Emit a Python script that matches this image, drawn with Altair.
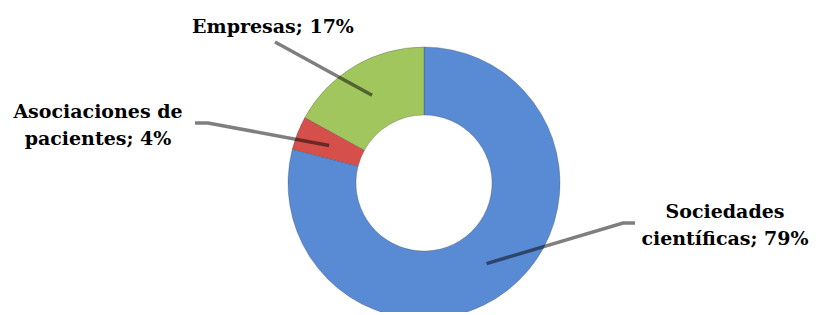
import math
import altair as alt
import pandas as pd

# ---- data ----
categories = ["Sociedades científicas", "Asociaciones de pacientes", "Empresas"]
percentages = [79, 4, 17]
label_lines = [["Sociedades", "científicas; 79%"], ["Asociaciones de", "pacientes; 4%"], ["Empresas; 17%"]]
colors = ["#588BD3", "#D6504B", "#A2C65E"]

# ---- layout ----
W, H = 805, 304
CX, CY = 416, 175
R_OUT, R_IN = 136, 68
# label anchors (center x, first baseline y) and leader elbow / outer ends
label_pos = [(717, 210), (90, 110), (265, 25)]
leader_elbow = [(615, 215), (200, 115), (267, 34)]
leader_outer = [(627, 215), (187, 115), (267, 34)]
LINE_H = 27

df = pd.DataFrame({"cat": categories, "pct": percentages, "order": list(range(len(categories)))})

arcs = alt.Chart(df).mark_arc(
    outerRadius=R_OUT, innerRadius=R_IN, stroke="#3a3a3a", strokeOpacity=0.35, strokeWidth=0.8
).encode(
    theta=alt.Theta("pct:Q", stack=True),
    order=alt.Order("order:Q"),
    color=alt.Color("cat:N", scale=alt.Scale(domain=categories, range=colors), legend=None),
    x=alt.value(CX),
    y=alt.value(CY),
)

# leader lines: inner end at mid-angle of each slice, middle of ring
total = sum(percentages)
rows = []
cum = 0
r_mid = (R_IN + R_OUT) / 2
for i, (c, p) in enumerate(zip(categories, percentages)):
    mid = (cum + p / 2) / total * 2 * math.pi
    cum += p
    ix = CX + r_mid * math.sin(mid)
    iy = CY - r_mid * math.cos(mid)
    pts = [(ix, iy), leader_elbow[i], leader_outer[i]]
    for k, (px, py) in enumerate(pts):
        rows.append({"cat": c, "seq": k, "px": px, "py": py})
lines_df = pd.DataFrame(rows)

leaders = alt.Chart(lines_df).mark_line(
    color="#000000", strokeOpacity=0.5, strokeWidth=3.5
).encode(
    x=alt.X("px:Q", scale=None, axis=None),
    y=alt.Y("py:Q", scale=None, axis=None),
    detail="cat:N",
    order="seq:Q",
)

trows = []
for i, lines in enumerate(label_lines):
    x0, y0 = label_pos[i]
    for k, t in enumerate(lines):
        trows.append({"txt": t, "tx": x0, "ty": y0 + k * LINE_H})
text_df = pd.DataFrame(trows)

labels = alt.Chart(text_df).mark_text(
    font="DejaVu Serif", fontWeight="bold", fontSize=19, align="center",
    baseline="alphabetic", color="#000000"
).encode(
    x=alt.X("tx:Q", scale=None, axis=None),
    y=alt.Y("ty:Q", scale=None, axis=None),
    text="txt:N",
)

chart = alt.layer(arcs, leaders, labels).properties(
    width=W, height=H, autosize=alt.AutoSizeParams(type="none"), padding=0
).configure_view(stroke=None)

chart.save("out.html", embed_options={"renderer": "svg", "actions": False})
